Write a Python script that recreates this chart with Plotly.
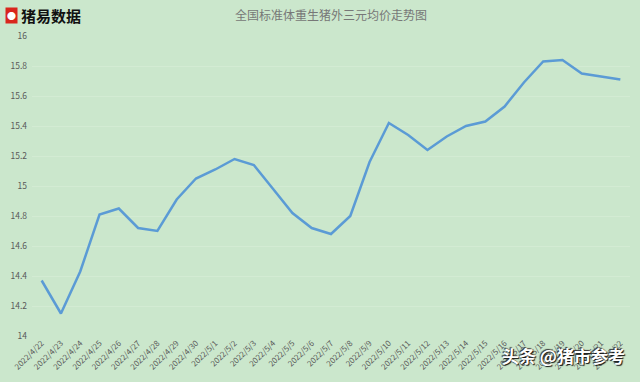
import plotly.graph_objects as go

dates = ["2022/4/22", "2022/4/23", "2022/4/24", "2022/4/25", "2022/4/26", "2022/4/27",
         "2022/4/28", "2022/4/29", "2022/4/30", "2022/5/1", "2022/5/2", "2022/5/3",
         "2022/5/4", "2022/5/5", "2022/5/6", "2022/5/7", "2022/5/8", "2022/5/9",
         "2022/5/10", "2022/5/11", "2022/5/12", "2022/5/13", "2022/5/14", "2022/5/15",
         "2022/5/16", "2022/5/17", "2022/5/18", "2022/5/19", "2022/5/20", "2022/5/21",
         "2022/5/22"]
prices = [14.37, 14.15, 14.43, 14.81, 14.85, 14.72, 14.70, 14.91, 15.05, 15.11, 15.18,
          15.14, 14.98, 14.82, 14.72, 14.68, 14.80, 15.16, 15.42, 15.34, 15.24, 15.33,
          15.40, 15.43, 15.53, 15.69, 15.83, 15.84, 15.75, 15.73, 15.71]
y_ticks = [14, 14.2, 14.4, 14.6, 14.8, 15, 15.2, 15.4, 15.6, 15.8, 16]
y_tick_text = ["14", "14.2", "14.4", "14.6", "14.8", "15", "15.2", "15.4", "15.6", "15.8", "16"]

title_text = "全国标准体重生猪外三元均价走势图"
logo_text = "猪易数据"
watermark = "头条 @猪市参考"

bg = "#CBE7CC"
fig = go.Figure()
fig.add_trace(go.Scatter(
    x=list(range(len(dates))), y=prices, mode="lines",
    line=dict(color="#5B9BD5", width=2.5), hoverinfo="skip", showlegend=False))

fig.update_layout(
    width=640, height=382,
    margin=dict(l=29, r=10, t=36, b=45),
    paper_bgcolor=bg, plot_bgcolor=bg,
    font=dict(family="Noto Sans CJK SC", color="#595959"),
    xaxis=dict(range=[-0.5, len(dates) - 0.5], tickmode="array",
               tickvals=list(range(len(dates))), ticktext=dates, tickangle=-45,
               tickfont=dict(size=8, color="#595959"), showgrid=False,
               zeroline=False, showline=False, ticks=""),
    yaxis=dict(range=[14, 16], tickmode="array", tickvals=y_ticks, ticktext=y_tick_text,
               tickfont=dict(size=8.5, color="#595959"), showgrid=True,
               gridcolor="#D3EBD3", gridwidth=1, zeroline=False, showline=False,
               ticks="", ticklabelstandoff=4),
    annotations=[
        dict(text=title_text, xref="paper", yref="paper", x=0.5, y=1, yshift=22,
             xanchor="center", yanchor="middle", showarrow=False,
             font=dict(size=12, color="#777777")),
        dict(text="<b>" + logo_text + "</b>", xref="paper", yref="paper",
             x=0, xshift=-13, y=1, yshift=21, xanchor="left", yanchor="middle",
             showarrow=False, font=dict(size=15, color="#111111")),
        dict(text="<b>●</b>", xref="paper", yref="paper",
             x=0, xshift=-27, y=1, yshift=21, xanchor="left", yanchor="middle",
             showarrow=False, bgcolor="#d9261c", borderpad=1,
             font=dict(size=9, color="#ffffff")),
        dict(text="<b>" + watermark + "</b>", xref="paper", yref="paper", x=1, xshift=-3,
             y=0, yshift=-19, xanchor="right", yanchor="middle", showarrow=False,
             font=dict(size=17, color="#ffffff",
                       shadow="1px 1px 1px #111111, -1px -1px 1px #333333")),
    ],
)

fig.write_html("out.html")
